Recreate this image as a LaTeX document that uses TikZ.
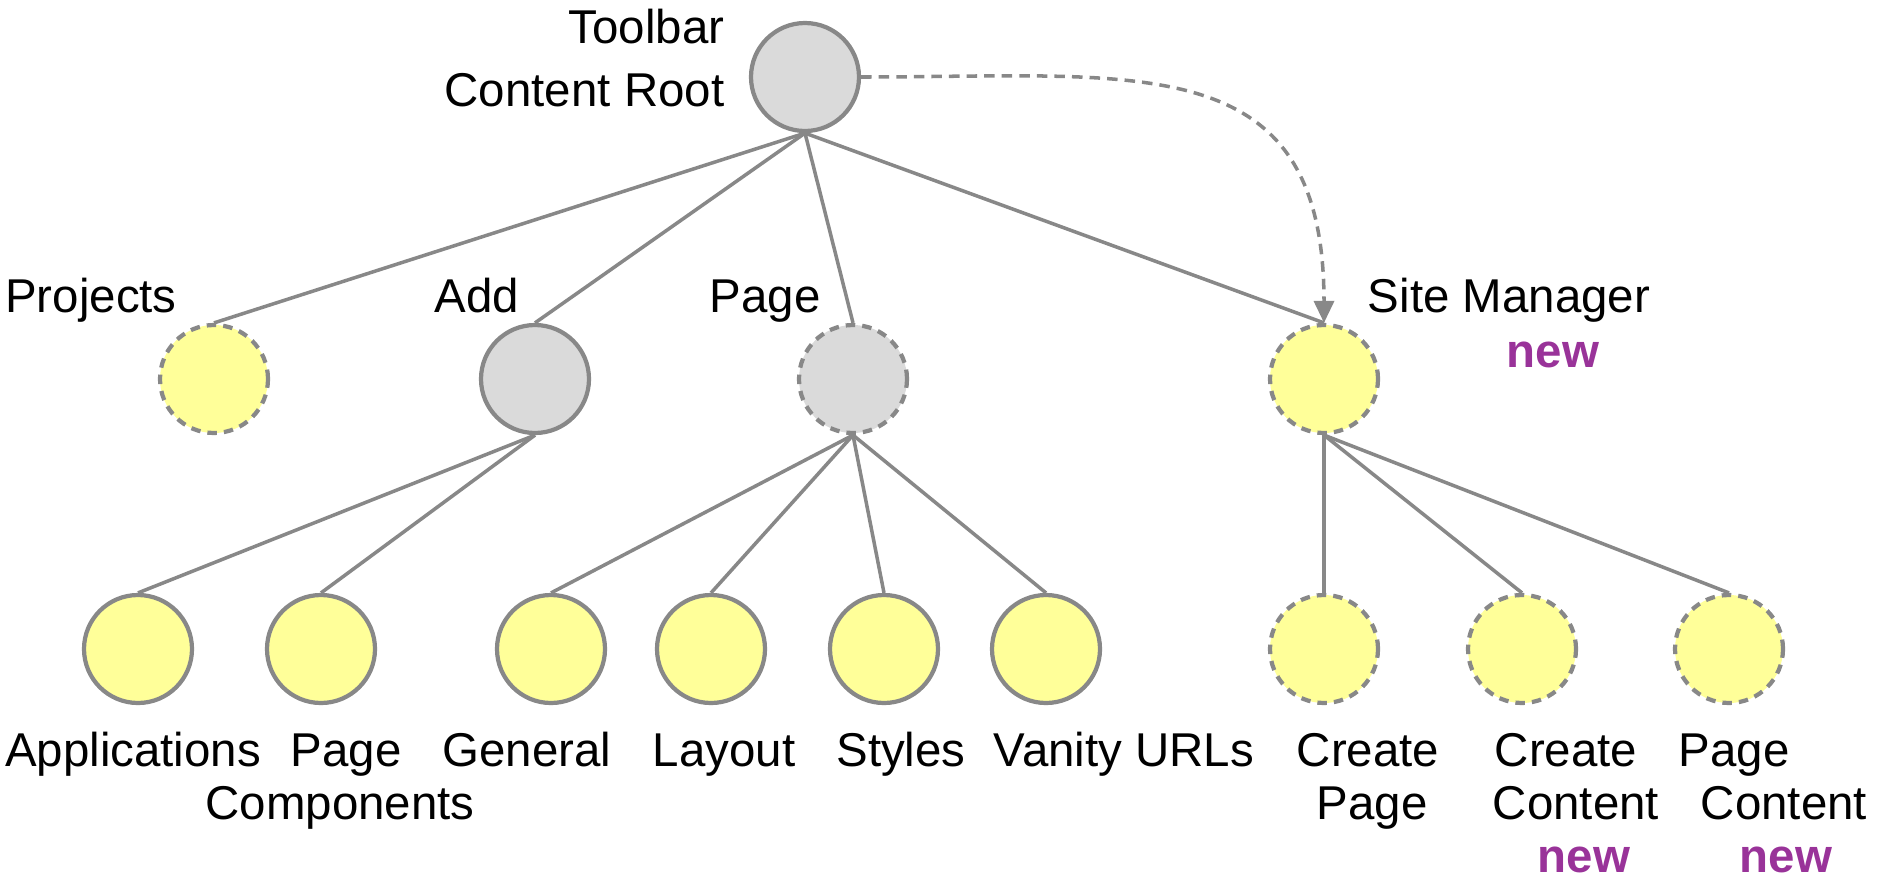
\documentclass[tikz,border=0pt]{standalone}
\usepackage{fontspec}
\setmainfont{Liberation Sans}
\usepackage{xcolor}
\usetikzlibrary{arrows.meta,positioning}
\definecolor{edge}{HTML}{888888}
\definecolor{yel}{HTML}{FFFF99}
\definecolor{grey}{HTML}{DADADA}
\definecolor{newc}{HTML}{993399}
\tikzset{
  link/.style={draw=edge, line width=1pt},
  ref/.style={draw=edge, line width=1pt, dash pattern=on 3pt off 2pt, -{Triangle[length=2.2mm,width=2mm]}},
  leaf/.style={circle, draw=edge, line width=1.2pt, fill=yel, minimum size=1.08cm, inner sep=0pt},
  leafd/.style={leaf, dash pattern=on 2.7pt off 2pt},
  grp/.style={leaf, fill=grey},
  grpd/.style={leafd, fill=grey},
  lab/.style={font=\fontsize{13.5}{16}\selectfont, anchor=base, inner sep=0pt},
  tag/.style={lab, font=\fontsize{13.5}{16}\selectfont\bfseries, text=newc},
}
\begin{document}
\begin{tikzpicture}
\useasboundingbox (0,0) rectangle (18.79,8.82);

\node[grp] (root) at (8.05,8.05) {};
\node[leafd] (proj) at (2.14,5.03) {};
\node[grp] (add) at (5.35,5.03) {};
\node[grpd] (page) at (8.53,5.03) {};
\node[leafd] (site) at (13.24,5.03) {};

\node[leaf] (apps) at (1.38,2.33) {};
\node[leaf] (comp) at (3.21,2.33) {};
\node[leaf] (gen) at (5.51,2.33) {};
\node[leaf] (lay) at (7.11,2.33) {};
\node[leaf] (sty) at (8.84,2.33) {};
\node[leaf] (van) at (10.46,2.33) {};
\node[leafd] (cpage) at (13.24,2.33) {};
\node[leafd] (ccont) at (15.22,2.33) {};
\node[leafd] (pcont) at (17.29,2.33) {};

\draw[link] (root.south) -- (proj.north);
\draw[link] (root.south) -- (add.north);
\draw[link] (root.south) -- (page.north);
\draw[link] (root.south) -- (site.north);
\draw[link] (add.south) -- (apps.north);
\draw[link] (add.south) -- (comp.north);
\draw[link] (page.south) -- (gen.north);
\draw[link] (page.south) -- (lay.north);
\draw[link] (page.south) -- (sty.north);
\draw[link] (page.south) -- (van.north);
\draw[link] (site.south) -- (cpage.north);
\draw[link] (site.south) -- (ccont.north);
\draw[link] (site.south) -- (pcont.north);
\draw[ref] (root.east) to[out=0,in=90,looseness=1.35] (site.north);

\node[lab, anchor=base east] (rootA) at (7.25,8.39) {Toolbar};
\node[lab, anchor=base east] (rootB) at (7.25,7.76) {Content Root};
\node[lab] (projL) at (0.91,5.70) {Projects};
\node[lab] (addL) at (4.77,5.70) {Add};
\node[lab] (pageL) at (7.65,5.70) {Page};
\node[lab] (siteL) at (15.09,5.70) {Site Manager};
\node[tag] (siteN) at (15.53,5.15) {new};

\node[lab] (appsL) at (1.33,1.16) {Applications};
\node[lab] (compA) at (3.46,1.16) {Page};
\node[lab] (compB) at (3.40,0.63) {Components};
\node[lab] (genL) at (5.27,1.16) {General};
\node[lab] (layL) at (7.24,1.16) {Layout};
\node[lab] (styL) at (9.01,1.16) {Styles};
\node[lab] (vanL) at (11.24,1.16) {Vanity URLs};
\node[lab] (cpageA) at (13.68,1.16) {Create};
\node[lab] (cpageB) at (13.72,0.63) {Page};
\node[lab] (ccontA) at (15.66,1.16) {Create};
\node[lab] (ccontB) at (15.76,0.63) {Content};
\node[tag] (ccontN) at (15.84,0.10) {new};
\node[lab] (pcontA) at (17.34,1.16) {Page};
\node[lab] (pcontB) at (17.84,0.63) {Content};
\node[tag] (pcontN) at (17.86,0.10) {new};
\end{tikzpicture}
\end{document}
